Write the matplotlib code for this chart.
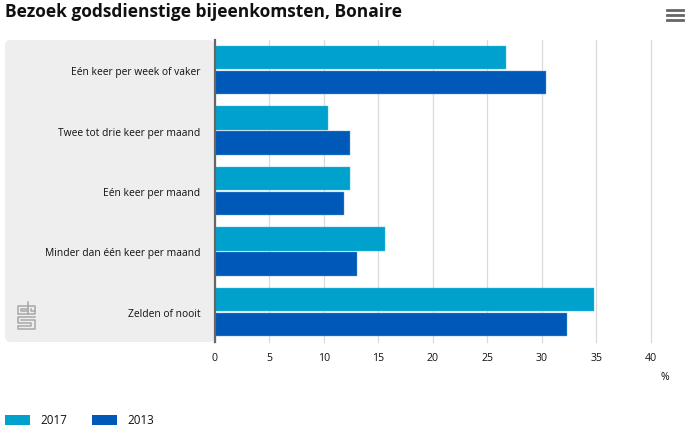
import matplotlib
matplotlib.use("Agg")
import matplotlib.pyplot as plt
from matplotlib.patches import FancyBboxPatch, Rectangle
from matplotlib.lines import Line2D
from matplotlib.transforms import IdentityTransform, Affine2D

categories = ["Eén keer per week of vaker", "Twee tot drie keer per maand", "Eén keer per maand",
              "Minder dan één keer per maand", "Zelden of nooit"]
values_2017 = [26.7, 10.4, 12.4, 15.6, 34.8]
values_2013 = [30.4, 12.4, 11.9, 13.1, 32.3]
xticks = [0, 5, 10, 15, 20, 25, 30, 35, 40]
c2017, c2013 = "#00A1CD", "#0058B8"
FONT = "Open Sans"
W, H = 689, 433
plt.rcParams["font.family"] = FONT

fig = plt.figure(figsize=(W / 100, H / 100), dpi=100)
ident = IdentityTransform()
def Y(y):
    return H - y

panel = FancyBboxPatch((5 + 5, Y(342) + 5), 210 - 10, 302 - 10, boxstyle="round,pad=5,rounding_size=6",
                       fc="#EEEEEE", ec="none", transform=ident, zorder=0)
fig.add_artist(panel)

ax = fig.add_axes([214.5 / W, Y(342) / H, 436.5 / W, 302 / H], facecolor="none")
ypos = list(range(len(categories)))
ax.barh([y - 0.207 for y in ypos], values_2017, height=0.39, color=c2017, edgecolor="#45C0E2", linewidth=0.3, zorder=3)
ax.barh([y + 0.207 for y in ypos], values_2013, height=0.39, color=c2013, edgecolor="#6AA3DE", linewidth=0.3, zorder=3)
ax.set_xlim(0, 40)
ax.set_ylim(4.5, -0.5)
ax.set_xticks(xticks)
ax.set_yticks(ypos)
ax.set_yticklabels(categories, fontsize=7.4, color="#111111")
ax.tick_params(axis="y", length=0, pad=10)
ax.tick_params(axis="x", length=0, pad=8, labelsize=7.6, labelcolor="#111111")
for t in ax.get_yticklabels():
    t.set_transform(t.get_transform() + Affine2D().translate(0, -1))
ax.grid(axis="x", color="#DADADA", linewidth=0.9, zorder=0)
for gl in ax.get_xgridlines():
    gl.set_clip_on(False)
ax.set_axisbelow(True)
for s in ["top", "right", "bottom"]:
    ax.spines[s].set_visible(False)
ax.spines["left"].set_color("#666666")
ax.spines["left"].set_linewidth(1.6)
ax.spines["left"].set_zorder(5)

fig.text(5 / W, Y(12) / H, "Bezoek godsdienstige bijeenkomsten, Bonaire", fontsize=12.5, fontweight="bold",
         color="#111111", va="center", ha="left")
fig.text(665 / W, Y(378) / H, "%", fontsize=7.6, color="#111111", va="center", ha="center")

# legend
for x, c, lab in [(5, c2017, "2017"), (92, c2013, "2013")]:
    fig.add_artist(Rectangle((x, Y(425)), 25, 10, fc=c, ec="none", transform=ident))
    fig.text((x + 35) / W, Y(420.5) / H, lab, fontsize=8.4, color="#111111", va="center", ha="left")

# menu icon
for y in (10, 15, 20):
    fig.add_artist(Line2D([667, 683], [Y(y), Y(y)], color="#666666", lw=2.0, transform=ident))

# logo
logo = [
    [(28, 306), (18, 306), (18, 314), (28, 314)],
    [(28, 309), (21, 309), (21, 311), (28, 311)],
    [(28, 302), (28, 314), (34.5, 314), (34.5, 306), (28, 306)],
    [(31, 309), (31, 311), (34.5, 311)],
    [(34.5, 317), (18, 317), (18, 323), (31, 323), (31, 326), (18, 326), (18, 329), (34.5, 329), (34.5, 320), (21, 320)],
]
for seg in logo:
    fig.add_artist(Line2D([p[0] for p in seg], [Y(p[1]) for p in seg], color="#A8A8A8", lw=1.1, transform=ident))

fig.savefig("out.png", dpi=100)
